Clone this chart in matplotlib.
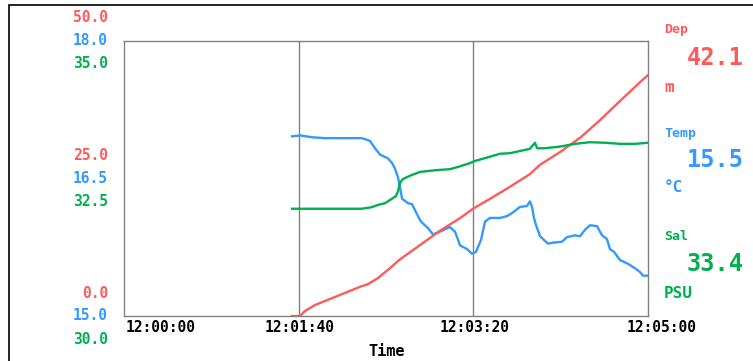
import matplotlib
matplotlib.use("Agg")
import matplotlib.pyplot as plt
from matplotlib.transforms import blended_transform_factory, ScaledTranslation
from matplotlib.patches import Rectangle

# ---- data (seconds after 12:00:00) ----
temp_t = [96.2, 100.8, 107.6, 115.1, 126.5, 136.3, 140.8, 143.7, 146.6, 151.1, 153.4, 155.1,
          156.9, 158.0, 159.2, 162.6, 164.9, 168.3, 170.0, 174.0, 176.9, 180.9, 186.6, 189.5,
          192.4, 196.4, 199.2, 201.5, 204.4, 206.7, 209.5, 215.3, 219.3, 222.7, 226.7, 230.7,
          232.4, 233.6, 234.7, 235.9, 238.2, 242.7, 245.6, 250.8, 253.6, 258.2, 261.1, 263.9,
          266.8, 270.8, 273.7, 276.5, 278.2, 280.5, 284.0, 288.5, 292.6, 295.4, 297.1, 300.0]
temp_v = [16.96, 16.97, 16.95, 16.94, 16.94, 16.94, 16.91, 16.83, 16.76, 16.72, 16.67, 16.61,
          16.51, 16.41, 16.28, 16.23, 16.22, 16.09, 16.03, 15.96, 15.89, 15.92, 15.97, 15.92,
          15.77, 15.73, 15.68, 15.70, 15.83, 16.03, 16.07, 16.07, 16.09, 16.13, 16.19, 16.20,
          16.25, 16.19, 16.07, 15.99, 15.87, 15.79, 15.80, 15.81, 15.86, 15.88, 15.87, 15.94,
          15.99, 15.98, 15.88, 15.84, 15.73, 15.70, 15.61, 15.57, 15.52, 15.48, 15.44, 15.44]

sal_t = [96.2, 112.2, 123.7, 136.3, 142.0, 145.4, 149.4, 152.3, 155.7, 156.9, 158.0, 159.7,
         163.7, 169.5, 178.1, 186.6, 191.2, 198.1, 201.0, 206.7, 215.3, 221.0, 226.7, 232.4,
         235.3, 236.5, 241.0, 249.6, 258.2, 266.8, 275.4, 284.0, 292.6, 300.0]
sal_v = [31.95, 31.95, 31.95, 31.95, 31.98, 32.02, 32.05, 32.11, 32.18, 32.27, 32.42, 32.49,
         32.55, 32.62, 32.65, 32.67, 32.71, 32.78, 32.82, 32.87, 32.95, 32.96, 33.00, 33.04,
         33.15, 33.05, 33.05, 33.08, 33.13, 33.16, 33.15, 33.13, 33.13, 33.15]

dep_t = [96.2, 100.8, 103.6, 109.4, 118.0, 126.5, 135.1, 139.7, 145.4, 152.3, 158.0, 169.5,
         180.9, 192.4, 199.8, 209.5, 221.0, 232.4, 238.2, 249.6, 261.1, 272.5, 284.0, 295.4, 300.0]
dep_v = [0.0, 0.0, 0.9, 2.0, 3.1, 4.2, 5.3, 5.8, 6.9, 8.7, 10.3, 12.9,
         15.5, 17.8, 19.5, 21.3, 23.5, 25.8, 27.5, 29.8, 32.4, 35.6, 39.1, 42.5, 43.8]

x_ticks = [0, 100, 200, 300]
x_labels = ["12:00:00", "12:01:40", "12:03:20", "12:05:00"]
grid_x = [100, 200]

temp_ticks = [15.0, 16.5, 18.0]
dep_ticks = [0.0, 25.0, 50.0]
sal_ticks = [30.0, 32.5, 35.0]

readouts = [("Dep", "42.1", "m"), ("Temp", "15.5", "°C"), ("Sal", "33.4", "PSU")]

RED = "#FF5A5A"
BLUE = "#3399FF"
GREEN = "#00B050"

FONT = ["DejaVu Sans Mono", "DejaVu Sans"]
plt.rcParams["font.family"] = FONT
plt.rcParams["font.weight"] = "bold"

W, H = 753, 361
fig = plt.figure(figsize=(W / 100, H / 100), dpi=100)
ax = fig.add_axes([124 / W, 1 - 316 / H, (648 - 124) / W, (316 - 41) / H])
ax_dep = ax.twinx()
ax_sal = ax.twinx()

ax.set_xlim(0, 300)
ax.set_ylim(15, 18)
ax_dep.set_ylim(0, 50)
ax_sal.set_ylim(30, 35)

for gx in grid_x:
    ax.axvline(gx, color="#808080", lw=1.0, zorder=0)

ax.plot(temp_t, temp_v, color=BLUE, lw=1.7)
ax_sal.plot(sal_t, sal_v, color=GREEN, lw=1.7)
ax_dep.plot(dep_t, dep_v, color=RED, lw=1.7)

for a in (ax_dep, ax_sal):
    a.set_yticks([])
    for s in a.spines.values():
        s.set_visible(False)
for s in ax.spines.values():
    s.set_color("#808080")
    s.set_linewidth(1.0)

ax.set_yticks([])
ax.set_xticks(x_ticks)
ax.set_xticklabels([])
ax.tick_params(axis="x", length=0)

# x tick labels, shifted to stay clear of the stacked left labels
x_shift_px = [37, 1, 1, 14]
xtr = blended_transform_factory(ax.transData, fig.transFigure)
for xv, lab, dx in zip(x_ticks, x_labels, x_shift_px):
    ax.text(xv, 1 - 327 / H, lab, transform=xtr + ScaledTranslation(dx / 100, 0, fig.dpi_scale_trans),
            fontsize=10.5, fontweight="bold", ha="center", va="center", clip_on=False)
fig.text(387 / W, 1 - 351 / H, "Time", fontsize=11, fontweight="bold", ha="center", va="center")

# stacked left labels
lx = -16 / 524
for axis_, ticks, col, dy in ((ax_dep, dep_ticks, RED, 23), (ax, temp_ticks, BLUE, 0),
                              (ax_sal, sal_ticks, GREEN, -23)):
    tr = blended_transform_factory(ax.transAxes, axis_.transData) + \
        ScaledTranslation(0, dy / 100, fig.dpi_scale_trans)
    for v in ticks:
        ax.text(lx, v, f"{v:.1f}", transform=tr, color=col, fontsize=10.5,
                fontweight="bold", ha="right", va="center", clip_on=False)

# right readouts
cols = [RED, BLUE, GREEN]
ys = [(29, 58, 87), (133, 160, 188), (236, 264, 294)]
for (name, val, unit), col, (y1, y2, y3) in zip(readouts, cols, ys):
    fig.text(664 / W, 1 - y1 / H, name, color=col, fontsize=9.5, fontweight="bold",
             ha="left", va="center")
    fig.text(744 / W, 1 - y2 / H, val, color=col, fontsize=17, fontweight="bold",
             ha="right", va="center")
    fig.text(664 / W, 1 - y3 / H, unit, color=col, fontsize=11.5, fontweight="bold",
             ha="left", va="center")

# outer frame
fig.patches.append(Rectangle((9 / W, -0.1), 1.2, 1 - 5 / H + 0.1, transform=fig.transFigure,
                             fill=False, edgecolor="black", lw=1.2))

fig.savefig("out.png", dpi=100)
